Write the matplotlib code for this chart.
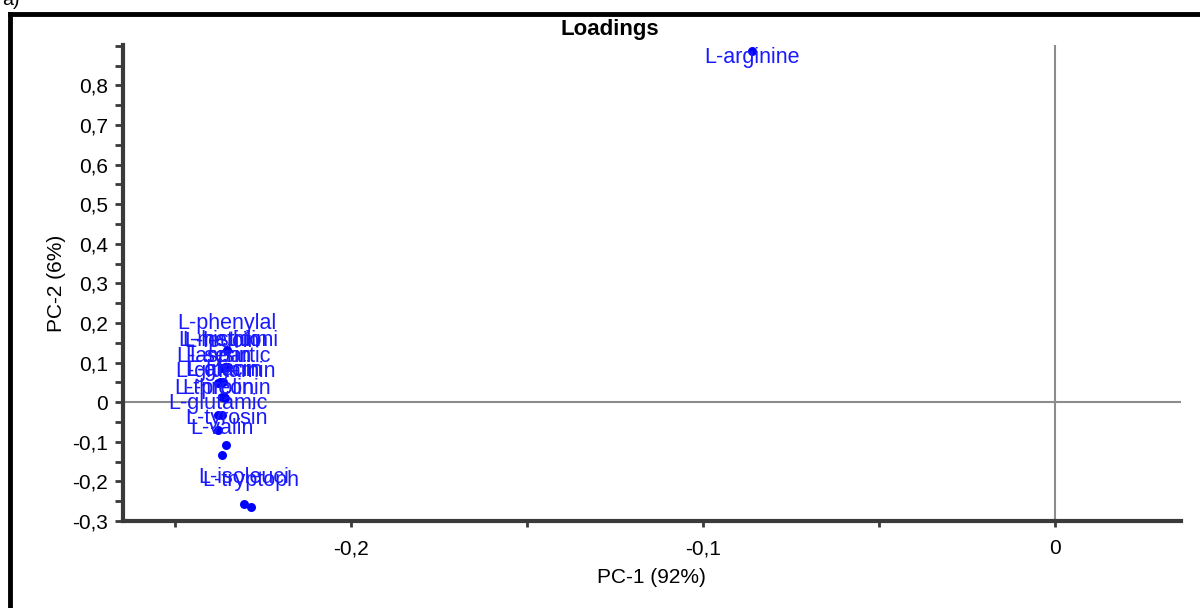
import numpy as np
import matplotlib.pyplot as plt
from matplotlib.ticker import MultipleLocator, FuncFormatter
from matplotlib.lines import Line2D

plt.rcParams['font.family'] = ['Liberation Sans', 'DejaVu Sans']
plt.rcParams['axes.unicode_minus'] = False

# Loadings (PC-1, PC-2)
names = ['L-phenylal', 'L-histidin', 'L-leucin', 'L-methioni',
         'L-aspartic', 'L-serin', 'L-lysin',
         'L-glycin', 'L-alanin', 'L-glutamin',
         'L-threonin', 'L-prolin', 'L-glutamic', 'L-tyrosin', 'L-valin',
         'L-isoleuci', 'L-tryptoph', 'L-arginine']
pc1 = [-0.2352, -0.2358, -0.2366, -0.2349,
       -0.2363, -0.2378, -0.2372,
       -0.2366, -0.2361, -0.2358,
       -0.2366, -0.2378, -0.2378, -0.2355, -0.2366,
       -0.2304, -0.2284, -0.0861]
pc2 = [0.131, 0.088, 0.086, 0.088,
       0.050, 0.048, 0.050,
       0.013, 0.013, 0.010,
       -0.033, -0.033, -0.071, -0.108, -0.134,
       -0.257, -0.264, 0.887]
# label offset (points): cluster labels sit above, arginine below
label_dy = [19] * 17 + [-5]

fig = plt.figure(figsize=(12, 6.08), dpi=100)
ax = fig.add_axes([0.1025, 0.143, 0.8815, 0.783])

ax.axhline(0, color='#8c8c8c', lw=1.5, zorder=1)
ax.axvline(0, color='#8c8c8c', lw=1.5, zorder=1)

ax.scatter(pc1, pc2, s=42, color='#0000ff', zorder=3, linewidths=0)
for n, x, y, dy in zip(names, pc1, pc2, label_dy):
    ax.annotate(n, (x, y), xytext=(0, dy), textcoords='offset points',
                ha='center', va='center', color='#1a1aff', fontsize=15.5, zorder=4)

ax.set_xlim(-0.2648, 0.0358)
ax.set_ylim(-0.3, 0.902)

ax.xaxis.set_major_locator(MultipleLocator(0.1))
ax.xaxis.set_minor_locator(MultipleLocator(0.05))
ax.yaxis.set_major_locator(MultipleLocator(0.1))
ax.yaxis.set_minor_locator(MultipleLocator(0.05))
fmt = FuncFormatter(lambda v, p: ('%g' % round(v, 3)).replace('.', ','))
ax.xaxis.set_major_formatter(fmt)
ax.yaxis.set_major_formatter(fmt)
ax.set_yticks([t / 10 for t in range(-3, 9)])

for s in ['top', 'right']:
    ax.spines[s].set_visible(False)
for s in ['left', 'bottom']:
    ax.spines[s].set_color('#3a3a3a')
    ax.spines[s].set_linewidth(3)

ax.tick_params(axis='y', which='both', direction='out', length=6, width=2,
               color='#3a3a3a', labelsize=15, pad=5)
ax.tick_params(axis='x', which='both', direction='out', length=4, width=2,
               color='#3a3a3a', labelsize=15, pad=9)

ax.set_xlabel('PC-1 (92%)', fontsize=15, labelpad=7)
ax.set_ylabel('PC-2 (6%)', fontsize=15, labelpad=4)
# title is centred on the outer frame, not on the axes
fig.text(610 / 1200, 1 - 30 / 608, 'Loadings', fontsize=16, fontweight='bold',
         ha='center', va='center')

# outer frame, cut off at the right and bottom edges
fig.add_artist(Line2D([10 / 1200, 10 / 1200], [-0.1, 1 - 14 / 608],
                      color='black', lw=3.5, transform=fig.transFigure))
fig.add_artist(Line2D([10 / 1200, 1.1], [1 - 14 / 608, 1 - 14 / 608],
                      color='black', lw=3.5, transform=fig.transFigure))
fig.text(2 / 1200, 1 - 5 / 608, 'a)', fontsize=14, va='baseline', ha='left')

fig.savefig('out.png', dpi=100)
